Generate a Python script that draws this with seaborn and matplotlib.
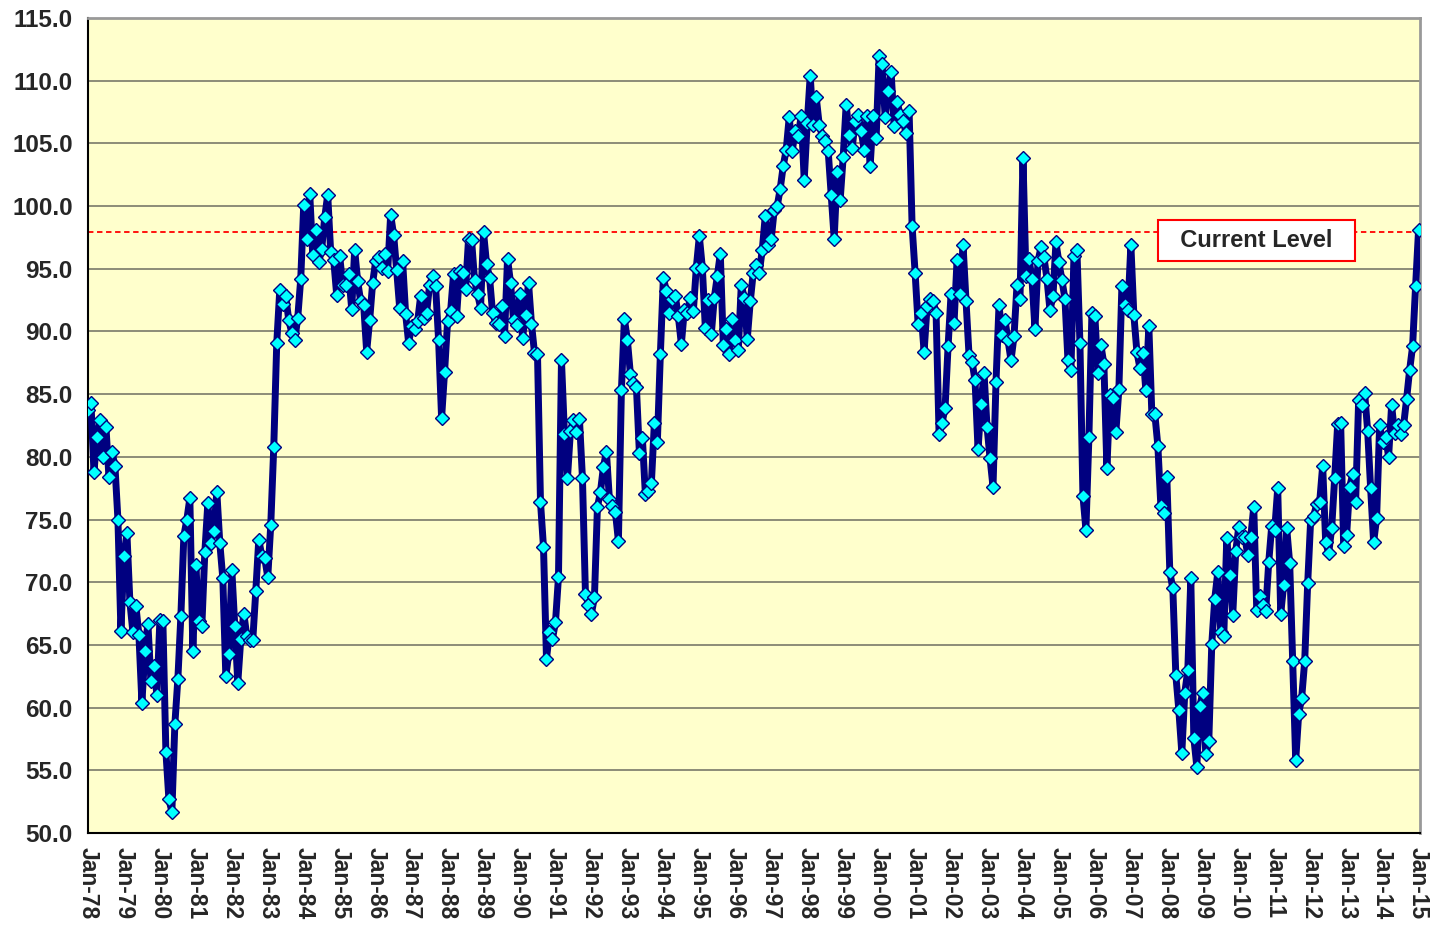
import numpy as np
import pandas as pd
import matplotlib
matplotlib.use("Agg")
import matplotlib.pyplot as plt
import seaborn as sns
from matplotlib.ticker import FormatStrFormatter

# --------------------------------------------------------------------------- #
# Data: monthly index, Jan-78 .. Jan-15
# --------------------------------------------------------------------------- #
S_1978_1989 = [
    83.7, 84.3, 78.8, 81.6, 82.9, 80.0, 82.4, 78.4, 80.4, 79.3, 75.0, 66.1,
    72.1, 73.9, 68.4, 66.0, 68.1, 65.8, 60.4, 64.5, 66.7, 62.1, 63.3, 61.0,
    67.0, 66.9, 56.5, 52.7, 51.7, 58.7, 62.3, 67.3, 73.7, 75.0, 76.7, 64.5,
    71.4, 66.9, 66.5, 72.4, 76.3, 73.1, 74.1, 77.2, 73.1, 70.3, 62.5, 64.3,
    71.0, 66.5, 62.0, 65.5, 67.5, 65.7, 65.4, 65.4, 69.3, 73.4, 72.1, 71.9,
    70.4, 74.6, 80.8, 89.1, 93.3, 92.2, 92.8, 90.9, 89.9, 89.3, 91.1, 94.2,
    100.1, 97.4, 101.0, 96.1, 98.1, 95.5, 96.6, 99.1, 100.9, 96.3, 95.7, 92.9,
    96.0, 93.7, 93.7, 94.6, 91.8, 96.5, 94.0, 92.4, 92.1, 88.4, 90.9, 93.9,
    95.6, 95.9, 95.1, 96.2, 94.8, 99.3, 97.7, 94.9, 91.9, 95.6, 91.4, 89.1,
    90.4, 90.2, 90.8, 92.8, 91.1, 91.5, 93.7, 94.4, 93.6, 89.3, 83.1, 86.8,
    90.8, 91.6, 94.6, 91.2, 94.8, 94.7, 93.4, 97.4, 97.3, 94.1, 93.0, 91.9,
    97.9, 95.4, 94.3, 91.5, 90.7, 90.6, 92.0, 89.6, 95.8, 93.9, 90.9, 90.5,
]
S_1990_1999 = [
    93.0, 89.5, 91.3, 93.9, 90.6, 88.3, 88.2, 76.4, 72.8, 63.9, 66.0, 65.5,
    66.8, 70.4, 87.7, 81.8, 78.3, 82.1, 82.9, 82.0, 83.0, 78.3, 69.1, 68.2,
    67.5, 68.8, 76.0, 77.2, 79.2, 80.4, 76.6, 76.1, 75.6, 73.3, 85.3, 91.0,
    89.3, 86.6, 85.9, 85.6, 80.3, 81.5, 77.0, 77.3, 77.9, 82.7, 81.2, 88.2,
    94.3, 93.2, 91.5, 92.6, 92.8, 91.2, 89.0, 91.7, 91.5, 92.7, 91.6, 95.1,
    97.6, 95.1, 90.3, 92.5, 89.8, 92.7, 94.4, 96.2, 88.9, 90.2, 88.2, 91.0,
    89.3, 88.5, 93.7, 92.7, 89.4, 92.4, 94.7, 95.3, 94.7, 96.5, 99.2, 96.9,
    97.4, 99.7, 100.0, 101.4, 103.2, 104.5, 107.1, 104.4, 106.0, 105.6, 107.2, 102.1,
    106.6, 110.4, 106.5, 108.7, 106.5, 105.6, 105.2, 104.4, 100.9, 97.4, 102.7, 100.5,
    103.9, 108.1, 105.7, 104.6, 106.8, 107.3, 106.0, 104.5, 107.2, 103.2, 107.2, 105.4,
]
S_2000_2009 = [
    112.0, 111.3, 107.1, 109.2, 110.7, 106.4, 108.3, 107.3, 106.8, 105.8, 107.6, 98.4,
    94.7, 90.6, 91.5, 88.4, 92.0, 92.6, 92.4, 91.5, 81.8, 82.7, 83.9, 88.8,
    93.0, 90.7, 95.7, 93.0, 96.9, 92.4, 88.1, 87.6, 86.1, 80.6, 84.2, 86.7,
    82.4, 79.9, 77.6, 86.0, 92.1, 89.7, 90.9, 89.3, 87.7, 89.6, 93.7, 92.6,
    103.8, 94.4, 95.8, 94.2, 90.2, 95.6, 96.7, 95.9, 94.2, 91.7, 92.8, 97.1,
    95.5, 94.1, 92.6, 87.7, 86.9, 96.0, 96.5, 89.1, 76.9, 74.2, 81.6, 91.5,
    91.2, 86.7, 88.9, 87.4, 79.1, 84.9, 84.7, 82.0, 85.4, 93.6, 92.1, 91.7,
    96.9, 91.3, 88.4, 87.1, 88.3, 85.3, 90.4, 83.4, 83.4, 80.9, 76.1, 75.5,
    78.4, 70.8, 69.5, 62.6, 59.8, 56.4, 61.2, 63.0, 70.3, 57.6, 55.3, 60.1,
    61.2, 56.3, 57.3, 65.1, 68.7, 70.8, 66.0, 65.7, 73.5, 70.6, 67.4, 72.5,
]
S_2010_2015 = [
    74.4, 73.6, 73.6, 72.2, 73.6, 76.0, 67.8, 68.9, 68.2, 67.7, 71.6, 74.5,
    74.2, 77.5, 67.5, 69.8, 74.3, 71.5, 63.7, 55.8, 59.5, 60.8, 63.7, 69.9,
    75.0, 75.3, 76.2, 76.4, 79.3, 73.2, 72.3, 74.3, 78.3, 82.6, 82.7, 72.9,
    73.8, 77.6, 78.6, 76.4, 84.5, 84.1, 85.1, 82.1, 77.5, 73.2, 75.1, 82.5,
    81.2, 81.6, 80.0, 84.1, 81.9, 82.5, 81.8, 82.5, 84.6, 86.9, 88.8, 93.6,
    98.1,
]
CURRENT_LEVEL = 97.9
YEAR_LABELS = [f"Jan-{y % 100:02d}" for y in range(1978, 2016)]

values = S_1978_1989 + S_1990_1999 + S_2000_2009 + S_2010_2015
df = pd.DataFrame({"month": np.arange(len(values)), "value": values})

# --------------------------------------------------------------------------- #
# Plot
# --------------------------------------------------------------------------- #
sns.set_style("white")
plt.rcParams["font.family"] = ["Liberation Sans", "DejaVu Sans"]
plt.rcParams["font.weight"] = "bold"

fig = plt.figure(figsize=(14.42, 9.27), dpi=100)
ax = fig.add_axes([0.061, 0.1014, 0.924, 0.8792])
ax.set_facecolor("#FFFFCC")

for y in range(55, 115, 5):
    ax.axhline(y, color="#6e6e60", lw=1.1, zorder=0)

ax.plot([df.month.min(), df.month.max()], [CURRENT_LEVEL, CURRENT_LEVEL],
        color="red", ls=(0, (3, 2)), lw=1.3, zorder=1)

sns.lineplot(data=df, x="month", y="value", color="#000080", lw=5,
             marker="D", markersize=7.5, markerfacecolor="#00FFFF",
             markeredgecolor="#000080", markeredgewidth=1.0, ax=ax, zorder=3)

ax.text(390, 97.25, "  Current Level  ", ha="center", va="center",
        fontsize=17, fontweight="bold", zorder=5,
        bbox=dict(boxstyle="square,pad=0.38", fc="white", ec="red", lw=1.5))

ax.set_xlim(0, len(values) - 0.4)
ax.set_ylim(50, 115)
ax.set_yticks(np.arange(50, 115.1, 5))
ax.yaxis.set_major_formatter(FormatStrFormatter("%.1f"))
ax.set_xticks(np.arange(0, len(values), 12))
ax.set_xticklabels(YEAR_LABELS, rotation=-90)
ax.tick_params(axis="both", length=6, width=1, direction="out", color="#555555")
ax.tick_params(axis="y", labelsize=17.5, pad=5)
ax.tick_params(axis="x", labelsize=16.5, pad=4)
for lab in ax.get_xticklabels() + ax.get_yticklabels():
    lab.set_fontweight("bold")
ax.set_xlabel("")
ax.set_ylabel("")

for side in ("left", "bottom"):
    ax.spines[side].set_color("black")
    ax.spines[side].set_linewidth(1.5)
for side in ("top", "right"):
    ax.spines[side].set_color("#999999")
    ax.spines[side].set_linewidth(2)

fig.savefig("out.png", dpi=100)
